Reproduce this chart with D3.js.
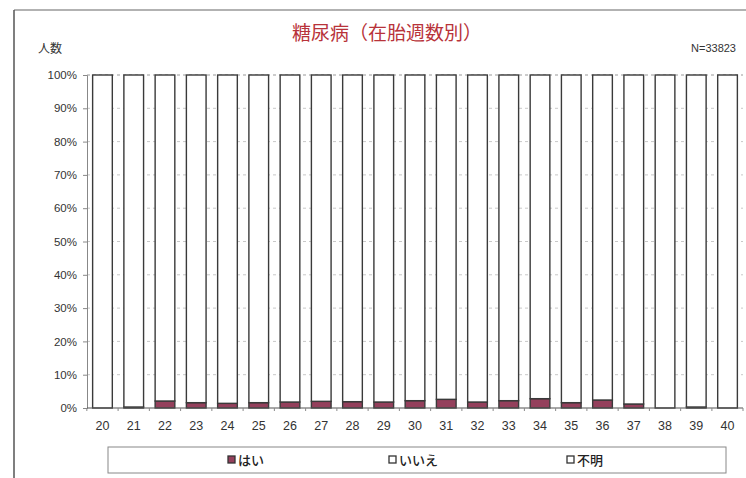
<!DOCTYPE html>
<html><head><meta charset="utf-8">
<script src="https://cdn.jsdelivr.net/npm/d3@7"></script>
<style>body{margin:0;background:#fff}svg{display:block}</style>
</head><body>
<script>
const categories = ["20","21","22","23","24","25","26","27","28","29","30","31","32","33","34","35","36","37","38","39","40"];
const hai   = [0, 0.3, 2.1, 1.6, 1.4, 1.6, 1.8, 2.0, 1.9, 1.8, 2.2, 2.6, 1.8, 2.2, 2.8, 1.6, 2.4, 1.2, 0, 0.3, 0];
const fumei = [0,0,0,0,0,0,0,0,0,0,0,0,0,0,0,0,0,0,0,0,0];
const iie   = hai.map((v,i)=>100 - v - fumei[i]);
const seriesNames = ["はい","いいえ","不明"];
const yTicks = [0,10,20,30,40,50,60,70,80,90,100];
const title = "糖尿病（在胎週数別）";
const yTitle = "人数";
const nLabel = "N=33823";

(function(){
const W=746,H=478;
const svg = d3.select("body").append("svg").attr("width",W).attr("height",H);
const font = "'Liberation Sans', Arial, sans-serif";
const jfont = "'Noto Sans CJK JP', sans-serif";

// outer frame
svg.append("line").attr("x1",14).attr("x2",746).attr("y1",10).attr("y2",10).attr("stroke","#666").attr("stroke-width",1.2);
svg.append("line").attr("x1",14).attr("x2",14).attr("y1",10).attr("y2",478).attr("stroke","#555").attr("stroke-width",1.5);

const pL=87,pR=743,pT=75,pB=408;
const x = d3.scaleBand().domain(categories).range([pL,pR]).paddingInner(0.37).paddingOuter(0.18);
const y = d3.scaleLinear().domain([0,100]).range([pB,pT]);

// gridlines
svg.append("g").selectAll("line").data(yTicks.filter(t=>t>0)).join("line")
  .attr("x1",pL).attr("x2",pR).attr("y1",d=>y(d)).attr("y2",d=>y(d))
  .attr("stroke",d=>d===100?"#999":"#c8c8c8").attr("stroke-dasharray","3,3").attr("stroke-width",1);

// stacked data
const rows = categories.map((c,i)=>({cat:c,"はい":hai[i],"いいえ":iie[i],"不明":fumei[i]}));
const stack = d3.stack().keys(seriesNames)(rows);
const colors = {"はい":"#94405c","いいえ":"#ffffff","不明":"#ffffff"};
stack.forEach(s=>{
  svg.append("g").selectAll("rect").data(s.filter(d=>d[1]-d[0]>0)).join("rect")
    .attr("x",d=>x(d.data.cat)).attr("width",x.bandwidth())
    .attr("y",d=>y(d[1])).attr("height",d=>y(d[0])-y(d[1]))
    .attr("fill",colors[s.key]).attr("stroke","#3a3a3a").attr("stroke-width",1.4);
});

// y axis
const yAxis = d3.axisLeft(y).tickValues(yTicks).tickFormat(d=>d+"%").tickSize(4).tickPadding(6);
const gy = svg.append("g").attr("transform",`translate(${pL},0)`).call(yAxis);
gy.select(".domain").attr("stroke","#888");
gy.selectAll(".tick line").attr("stroke","#888");
gy.selectAll("text").attr("font-family",font).attr("font-size",11.5).attr("fill","#333");

// x axis
const gx = svg.append("g").attr("transform",`translate(0,${pB})`);
gx.append("line").attr("x1",pL).attr("x2",pR).attr("stroke","#555").attr("stroke-width",1.2);
const bounds = categories.map(c=>x(c)-x.step()*x.paddingInner()/2).concat([pR]);
gx.selectAll("line.t").data(bounds).join("line").attr("class","t")
  .attr("x1",d=>d).attr("x2",d=>d).attr("y1",0).attr("y2",3).attr("stroke","#888");
gx.selectAll("text").data(categories).join("text")
  .attr("x",d=>x(d)+x.bandwidth()/2).attr("y",22).attr("text-anchor","middle")
  .attr("font-family",font).attr("font-size",12.5).attr("fill","#333").text(d=>d);

// titles
svg.append("text").attr("x",387).attr("y",40).attr("text-anchor","middle")
  .attr("font-family",jfont).attr("font-size",19).attr("fill","#b8333a").text(title);
svg.append("text").attr("x",38).attr("y",53).attr("font-family",jfont).attr("font-size",12).attr("fill","#333").text(yTitle);
svg.append("text").attr("x",736).attr("y",52).attr("text-anchor","end").attr("font-family",font).attr("font-size",11).attr("fill","#333").text(nLabel);

// legend
svg.append("rect").attr("x",108).attr("y",447).attr("width",618).attr("height",26).attr("fill","#fff").attr("stroke","#888").attr("stroke-width",1);
const legX = [228,389,567];
seriesNames.forEach((n,i)=>{
  svg.append("rect").attr("x",legX[i]).attr("y",456).attr("width",7).attr("height",7)
    .attr("fill",colors[n]).attr("stroke","#333").attr("stroke-width",1.3);
  svg.append("text").attr("x",legX[i]+10).attr("y",465).attr("font-family",jfont).attr("font-size",13).attr("font-weight",500).attr("fill","#222").text(n);
});
})();
</script>
</body></html>
